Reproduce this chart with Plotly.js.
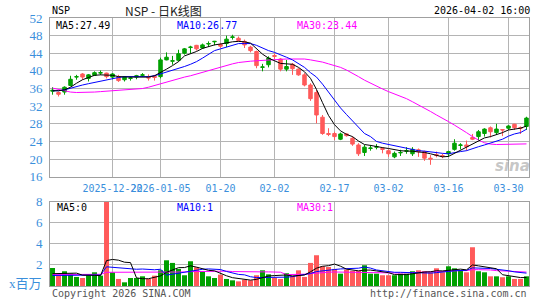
<!DOCTYPE html>
<html><head><meta charset="utf-8">
<script src="https://cdn.plot.ly/plotly-3.0.1.min.js"></script>
<style>html,body{margin:0;padding:0;background:#fff;}#chart{width:545px;height:300px;}</style>
</head><body><div id="chart"></div>
<script>
const dates = ['2025-12-08','2025-12-09','2025-12-10','2025-12-11','2025-12-12','2025-12-15','2025-12-16','2025-12-17','2025-12-18','2025-12-19',
'2025-12-22','2025-12-23','2025-12-24','2025-12-26','2025-12-29','2025-12-30','2025-12-31','2026-01-02','2026-01-05','2026-01-06',
'2026-01-07','2026-01-08','2026-01-09','2026-01-12','2026-01-13','2026-01-14','2026-01-15','2026-01-16','2026-01-20','2026-01-21',
'2026-01-22','2026-01-23','2026-01-26','2026-01-27','2026-01-28','2026-01-29','2026-01-30','2026-02-02','2026-02-03','2026-02-04',
'2026-02-05','2026-02-06','2026-02-09','2026-02-10','2026-02-11','2026-02-12','2026-02-13','2026-02-17','2026-02-18','2026-02-19',
'2026-02-20','2026-02-23','2026-02-24','2026-02-25','2026-02-26','2026-02-27','2026-03-02','2026-03-03','2026-03-04','2026-03-05',
'2026-03-06','2026-03-09','2026-03-10','2026-03-11','2026-03-12','2026-03-13','2026-03-16','2026-03-17','2026-03-18','2026-03-19',
'2026-03-20','2026-03-23','2026-03-24','2026-03-25','2026-03-26','2026-03-27','2026-03-30','2026-03-31','2026-04-01','2026-04-02'];

const openP = [35.4,35.1,35.2,36.7,38.6,39.3,38.3,39.0,39.5,39.5, 38.6,38.7,38.0,38.3,38.6,39.0,38.6,38.8,38.7,42.5,
42.2,42.4,44.0,45.3,45.8,45.2,46.1,46.6,46.0,46.2, 47.6,47.4,46.7,45.4,44.4,40.8,41.4,43.5,42.7,40.4,
41.5,40.4,39.1,36.8,35.1,29.5,25.8,25.8,24.5,25.7, 24.7,23.2,21.5,22.4,22.7,22.4,21.9,20.5,21.4,21.8,
21.2,22.1,21.7,20.2,21.0,20.8,21.2,22.2,23.1,23.2, 24.9,25.1,25.8,27.1,26.0,26.7,27.0,27.9,27.1,27.4];
const highP = [36.3,35.3,36.5,38.9,39.1,39.5,39.3,39.9,40.1,39.6, 39.5,39.1,38.7,38.7,39.1,39.5,39.2,39.1,43.0,44.2,
43.4,44.8,45.2,45.7,45.9,46.2,46.7,46.8,46.3,48.0, 48.2,47.8,47.1,45.7,44.6,41.6,43.3,44.0,42.9,42.5,
41.8,40.6,39.5,37.2,35.7,30.0,27.0,26.2,26.0,25.9, 25.1,23.6,23.2,23.2,23.4,22.7,22.2,21.7,22.1,22.7,
22.7,22.4,21.9,20.9,21.7,21.2,21.9,24.5,23.6,24.2, 25.7,26.6,27.0,27.4,28.0,26.8,27.7,28.0,27.4,29.6];
const lowP = [34.6,34.2,34.6,36.5,38.0,38.0,37.6,38.9,39.1,38.3, 38.1,37.5,37.6,37.8,38.1,38.7,37.8,37.8,38.3,42.4,
41.4,42.1,43.7,44.0,44.6,45.0,45.5,45.8,45.2,45.4, 47.1,46.7,45.2,44.2,40.6,39.9,40.8,42.7,39.9,39.9,
39.1,38.9,36.5,33.2,28.1,25.5,25.2,24.3,24.3,25.1, 23.0,20.7,20.7,21.9,22.2,21.3,20.5,20.2,20.7,21.2,
20.7,20.5,19.6,18.7,20.4,20.2,20.5,21.9,22.2,21.9, 24.3,24.3,25.1,24.9,25.5,25.2,26.6,26.6,25.7,26.6];
const closeP = [35.6,34.7,36.3,38.1,38.7,38.6,39.1,39.6,39.6,38.7, 39.3,37.8,38.6,38.4,38.9,39.1,38.4,38.5,42.5,43.1,
42.3,43.9,45.0,45.4,45.0,45.9,46.2,46.7,45.6,47.2, 47.7,46.9,45.9,44.6,41.2,40.9,42.9,43.3,40.4,41.0,
40.5,39.1,36.8,33.7,30.0,25.8,25.6,25.1,25.7,25.3, 23.4,21.2,22.7,22.5,22.8,22.2,21.2,21.3,21.5,21.9,
22.2,21.7,20.2,20.0,20.8,20.6,21.7,23.6,23.2,22.8, 24.5,26.2,26.8,26.2,26.8,26.6,27.5,27.1,27.0,29.3];
// volume, millions of shares
const volume = [1.71,0.98,1.40,1.17,0.86,0.76,1.02,1.30,0.98,7.98, 1.30,0.67,0.35,0.76,0.76,0.92,0.67,0.98,1.49,2.44,
2.19,1.62,1.02,2.35,1.78,1.40,0.92,0.76,1.08,0.67, 0.54,0.44,0.60,0.54,1.02,1.49,1.11,0.79,0.67,1.21,
0.98,1.49,0.86,2.19,2.92,1.87,1.80,1.62,1.17,1.56, 1.43,1.43,1.97,1.17,1.17,1.02,1.02,1.02,1.17,1.17,
1.40,1.49,1.40,1.30,1.68,1.30,1.87,1.68,1.49,1.30, 3.68,1.40,1.30,0.92,0.92,0.83,0.92,0.67,0.67,0.92];

const ma5 = [35.5,35.5,35.7,36.3,37.2,38.0,38.5,39.0,39.1,39.1, 39.0,38.7,38.6,38.6,38.6,38.6,38.6,38.9,39.6,40.4,
41.2,42.1,43.4,43.9,44.4,45.1,45.5,45.9,46.1,46.4, 46.6,46.7,46.6,46.3,45.0,43.8,42.9,42.3,41.7,41.6,
41.5,40.8,39.8,38.3,35.8,32.8,29.9,27.8,26.4,25.6, 25.1,24.1,23.3,23.1,22.8,22.6,22.4,22.1,21.9,21.8,
21.8,21.6,21.5,21.2,20.8,20.5,20.6,21.3,22.1,22.7, 23.4,24.2,24.8,25.1,25.5,26.0,26.6,26.8,27.0,27.49];
const ma10 = [35.5,35.5,35.7,36.1,36.5,36.8,37.1,37.4,37.7,38.0, 38.3,38.5,38.7,38.7,38.7,38.7,38.7,38.9,39.3,39.7,
40.1,40.5,41.0,41.5,42.1,42.9,43.8,44.6,45.0,45.4, 45.9,46.2,46.2,46.2,45.8,45.2,44.6,44.2,43.7,43.1,
42.5,41.6,40.8,39.6,38.6,37.0,35.2,33.2,31.6,30.1, 28.7,27.1,25.8,25.1,24.0,23.6,23.3,23.0,22.7,22.4,
22.1,21.9,21.8,21.6,21.5,21.3,21.2,21.5,21.7,21.9, 22.4,22.8,23.2,23.6,24.0,24.5,25.2,25.7,26.0,26.77];
const ma30 = [36.1,35.8,35.5,35.2,35.1,35.1,35.1,35.2,35.3,35.4, 35.5,35.5,35.6,35.7,35.8,36.0,36.3,36.7,37.0,37.4,
37.8,38.2,38.6,38.9,39.3,39.6,40.0,40.4,40.8,41.2, 41.6,41.9,42.1,42.2,42.3,42.4,42.5,42.6,42.7,42.7,
42.7,42.7,42.7,42.5,42.3,42.0,41.6,41.2,40.8,40.2, 39.5,38.7,37.9,37.2,36.6,35.9,35.3,34.8,34.2,33.7,
33.0,32.3,31.5,30.8,30.0,29.3,28.5,27.7,26.9,26.0, 25.1,24.3,23.7,23.4,23.3,23.3,23.3,23.3,23.4,23.44];
const volMa5 = [1.17,1.17,1.15,1.15,1.22,1.03,1.04,1.02,0.98,2.41, 2.52,2.45,2.26,2.22,0.77,0.69,0.69,0.82,0.96,1.30,
1.55,1.74,1.75,1.92,1.79,1.63,1.49,1.44,1.19,0.97, 0.79,0.70,0.67,0.56,0.63,0.82,0.95,0.99,1.02,1.05,
0.95,1.03,1.04,1.35,1.69,1.87,1.93,2.08,1.88,1.60, 1.52,1.44,1.51,1.51,1.43,1.35,1.27,1.08,1.08,1.08,
1.16,1.25,1.33,1.35,1.45,1.43,1.51,1.57,1.60,1.53, 2.00,1.91,1.83,1.72,1.64,1.07,0.98,0.85,0.80,0.80];
const volMa10 = [1.00,1.00,1.00,1.02,1.02,1.03,1.04,1.05,1.04,1.82, 1.78,1.75,1.64,1.60,1.59,1.61,1.57,1.54,1.59,1.04,
1.12,1.22,1.29,1.44,1.55,1.59,1.62,1.60,1.56,1.38, 1.21,1.10,1.06,0.88,0.80,0.81,0.83,0.83,0.79,0.84,
0.89,0.99,1.02,1.19,1.37,1.41,1.48,1.56,1.62,1.65, 1.70,1.69,1.80,1.70,1.52,1.44,1.36,1.30,1.30,1.26,
1.26,1.26,1.21,1.22,1.27,1.30,1.38,1.45,1.48,1.49, 1.72,1.71,1.70,1.66,1.59,1.54,1.45,1.34,1.26,1.22];
const volMa30 = [1.08,1.08,1.09,1.09,1.10,1.10,1.10,1.11,1.11,1.30, 1.30,1.29,1.28,1.27,1.27,1.27,1.26,1.26,1.28,1.30,
1.32,1.33,1.33,1.36,1.38,1.39,1.40,1.40,1.41,1.41, 1.37,1.35,1.33,1.31,1.31,1.34,1.34,1.32,1.31,1.08,
1.07,1.10,1.12,1.17,1.24,1.27,1.31,1.33,1.32,1.29, 1.26,1.26,1.29,1.25,1.23,1.22,1.22,1.23,1.23,1.25,
1.28,1.31,1.34,1.36,1.39,1.38,1.40,1.43,1.46,1.46, 1.55,1.55,1.57,1.52,1.46,1.42,1.39,1.36,1.35,1.32];

const tickDates = ['2025-12-22','2026-01-05','2026-01-20','2026-02-02','2026-02-17','2026-03-02','2026-03-16','2026-03-30'];
const tickLabels = ['2025-12-22','2026-01-05','01-20','02-02','02-17','03-02','03-16','03-30'];
const priceTicks = [16,20,24,28,32,36,40,44,48,52];
const volTicks = [2,4,6,8];
const legendPrice = ['MA5:27.49','MA10:26.77','MA30:23.44'];
const legendVol = ['MA5:0','MA10:1','MA30:1'];

const UP = '#00a000', DOWN = '#ff5a5a';
const BLUE_LBL = '#3a8fdc', GRID = '#b4b4b4', BORDER = '#a0a0a0';
const MONO = 'DejaVu Sans Mono, Liberation Mono, monospace';

const volColors = closeP.map((c, i) => c >= openP[i] ? UP : DOWN);

const lineTrace = (y, color, xa, ya) => ({type:'scatter', mode:'lines', x:dates, y:y, xaxis:xa, yaxis:ya,
  line:{color:color, width:1}, hoverinfo:'skip'});

const traces = [
  {type:'candlestick', x:dates, open:openP, high:highP, low:lowP, close:closeP, xaxis:'x', yaxis:'y',
   increasing:{line:{color:UP, width:1}, fillcolor:UP},
   decreasing:{line:{color:DOWN, width:1}, fillcolor:DOWN},
   whiskerwidth:0, hoverinfo:'skip'},
  lineTrace(ma30, '#ff00ff', 'x', 'y'),
  lineTrace(ma10, '#0000ff', 'x', 'y'),
  lineTrace(ma5, '#000000', 'x', 'y'),
  {type:'bar', x:dates, y:volume, xaxis:'x2', yaxis:'y2', marker:{color:volColors, line:{width:0}}, hoverinfo:'skip'},
  lineTrace(volMa30, '#ff00ff', 'x2', 'y2'),
  lineTrace(volMa10, '#0000ff', 'x2', 'y2'),
  lineTrace(volMa5, '#000000', 'x2', 'y2')
];

const L = 50, R = 16, T = 18, B = 14, W = 545, H = 300;
const pw = W - L - R, ph = H - T - B;
const px = x => (x - L) / pw;
const py = y => (H - B - y) / ph;

const xBase = {type:'category', range:[-0.42, 79.42], tickvals:tickDates, ticktext:tickLabels, tickangle:0,
  showgrid:true, gridcolor:GRID, gridwidth:1, showline:true, linecolor:BORDER, linewidth:1, mirror:true,
  ticks:'', zeroline:false, fixedrange:true, rangeslider:{visible:false}};
const yBase = {showgrid:true, gridcolor:GRID, gridwidth:1, showline:true, linecolor:BORDER, linewidth:1,
  mirror:true, ticks:'', zeroline:false, fixedrange:true, ticklabelstandoff:4,
  tickfont:{family:'Liberation Serif, serif', size:13, color:BLUE_LBL}};

const ann = (text, x, y, opts) => Object.assign({text:text, x:px(x), y:py(y), xref:'paper', yref:'paper',
  showarrow:false, xanchor:'left', yanchor:'middle', font:{family:MONO, size:10, color:'#000'}}, opts || {});

const annotations = [
  ann('NSP', 50, 11),
  ann('NSP - 日K线图', 163, 11, {xanchor:'center', font:{family:'Noto Sans CJK SC, sans-serif', size:12, color:'#222'}}),
  ann('2026-04-02 16:00', 532, 11, {xanchor:'right'}),
  ann(legendPrice[0], 54, 25),
  ann(legendPrice[1], 175, 25, {font:{family:MONO, size:10, color:'#0000ff'}}),
  ann(legendPrice[2], 295, 25, {font:{family:MONO, size:10, color:'#ff00ff'}}),
  ann(legendVol[0], 55, 207),
  ann(legendVol[1], 175, 207, {font:{family:MONO, size:10, color:'#0000ff'}}),
  ann(legendVol[2], 295, 207, {font:{family:MONO, size:10, color:'#ff00ff'}}),
  ann('x百万', 44, 283, {xanchor:'right', font:{family:'Liberation Serif, Noto Sans CJK SC, serif', size:13, color:BLUE_LBL}}),
  ann('Copyright 2026 SINA.COM', 50, 293, {font:{family:MONO, size:10, color:'#555'}}),
  ann('http://finance.sina.com.cn', 529, 293, {xanchor:'right', font:{family:MONO, size:10, color:'#555'}}),
  ann('sina', 512, 166, {xanchor:'center', font:{family:'DejaVu Sans, sans-serif', size:15, color:'rgba(150,150,150,0.55)', weight:'bold', style:'italic'}})
];

const layout = {
  width:W, height:H, margin:{l:L, r:R, t:T, b:B, pad:0},
  paper_bgcolor:'#fff', plot_bgcolor:'#fff', showlegend:false,
  boxgap:0.17, bargap:0.17,
  xaxis: Object.assign({}, xBase, {anchor:'y', domain:[0,1], ticklabelstandoff:2,
    tickfont:{family:MONO, size:10, color:BLUE_LBL}}),
  xaxis2: Object.assign({}, xBase, {anchor:'y2', domain:[0,1], showticklabels:false}),
  yaxis: Object.assign({}, yBase, {domain:[py(176.7), 1], range:[16, 52], tickvals:priceTicks}),
  yaxis2: Object.assign({}, yBase, {domain:[0, py(201.7)], range:[0, 8], tickvals:volTicks}),
  annotations: annotations
};

Plotly.newPlot('chart', traces, layout, {staticPlot:true, displayModeBar:false});
</script>
</body></html>
